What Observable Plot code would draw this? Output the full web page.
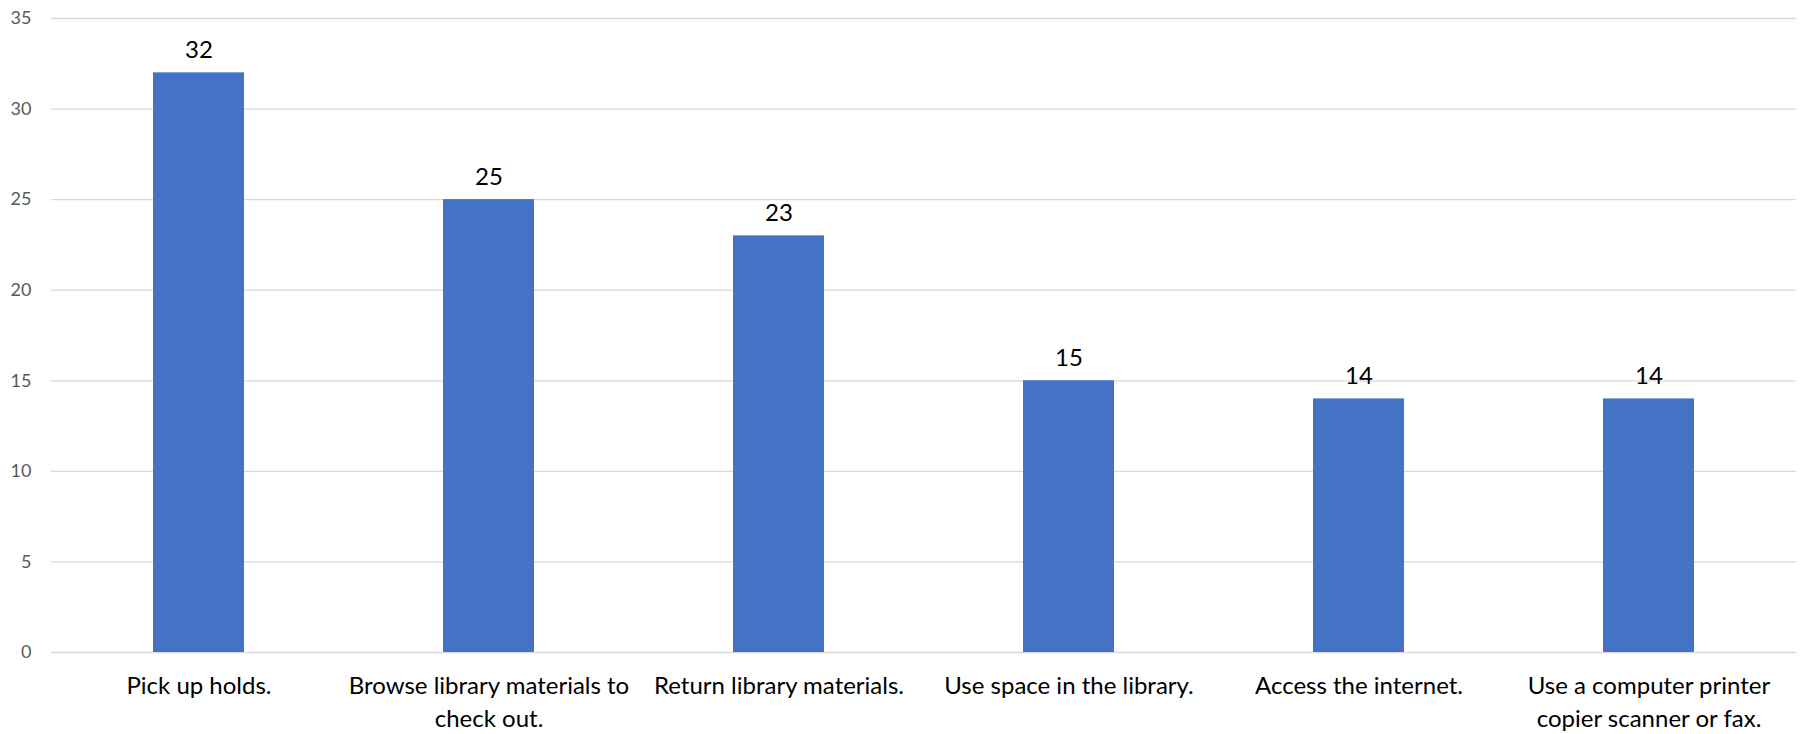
<!DOCTYPE html>
<html>
<head>
<meta charset="utf-8">
<script src="https://cdn.jsdelivr.net/npm/d3@7"></script>
<script src="https://cdn.jsdelivr.net/npm/@observablehq/plot@0.6"></script>
<style>
  html, body { margin: 0; padding: 0; background: #fff; }
  #chart svg { display: block; }
</style>
</head>
<body>
<div id="chart"></div>
<script>
// Reasons for visiting the library, with the number of responses for each
const categories = [
  "Pick up holds.",
  "Browse library materials to check out.",
  "Return library materials.",
  "Use space in the library.",
  "Access the internet.",
  "Use a computer printer copier scanner or fax."
];
const counts = [32, 25, 23, 15, 14, 14];
// Axis labels as they wrap under each bar
const tickLabels = [
  "Pick up holds.",
  "Browse library materials to\ncheck out.",
  "Return library materials.",
  "Use space in the library.",
  "Access the internet.",
  "Use a computer printer\ncopier scanner or fax."
];
const yTicks = [0, 5, 10, 15, 20, 25, 30, 35];

const data = categories.map((c, i) => ({category: c, count: counts[i]}));
const labelOf = new Map(categories.map((c, i) => [c, tickLabels[i]]));

const font = "Lato, 'Open Sans', sans-serif";

const chart = Plot.plot({
  width: 1801,
  height: 734,
  marginLeft: 51,
  marginRight: 5,
  marginTop: 18,
  marginBottom: 82,
  style: {fontFamily: font, background: "#fff"},
  x: {domain: categories, paddingInner: 0.687, paddingOuter: 0.3435, label: null},
  y: {domain: [0, 35], label: null},
  marks: [
    Plot.gridY(yTicks, {stroke: "#d9d9d9", strokeOpacity: 1, strokeWidth: 1.3}),
    Plot.barY(data, {x: "category", y: "count", fill: "#4472C4"}),
    Plot.text(data, {
      x: "category", y: "count", text: d => String(d.count),
      dy: -15, lineAnchor: "bottom", fontSize: 24, fill: "#000"
    }),
    Plot.axisY(yTicks, {
      tickSize: 0, tickPadding: 20, fontSize: 18, fill: "#595959", label: null
    }),
    Plot.axisX({
      tickSize: 0, tickPadding: 18, fontSize: 24, fill: "#000",
      lineHeight: 1.375, tickFormat: c => labelOf.get(c), label: null
    })
  ]
});

document.getElementById("chart").appendChild(chart);
</script>
</body>
</html>
